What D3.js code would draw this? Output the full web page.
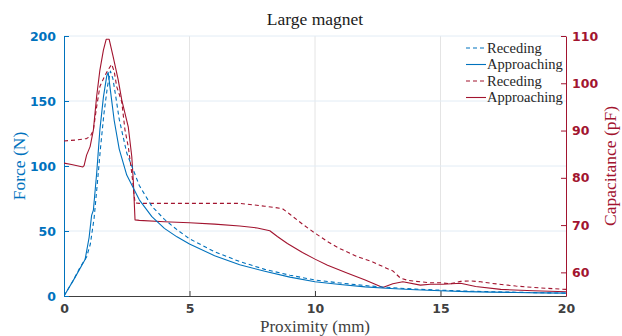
<!DOCTYPE html>
<html>
<head>
<meta charset="utf-8">
<script src="https://cdn.jsdelivr.net/npm/d3@7"></script>
<style>
html,body{margin:0;padding:0;background:#fff;}
svg{display:block;}
</style>
</head>
<body>
<svg id="chart" width="622" height="336"></svg>
<script>
// ---------- data ----------
const title = "Large magnet";
const xLabel = "Proximity (mm)";
const yLeftLabel = "Force (N)";
const yRightLabel = "Capacitance (pF)";
const xTicks = [0, 5, 10, 15, 20];
const yLeftTicks = [0, 50, 100, 150, 200];
const yRightTicks = [60, 70, 80, 90, 100, 110];
const legendLabels = ["Receding", "Approaching", "Receding", "Approaching"];

// Force, receding (dashed blue)
const forceRecX = [0, 0.37, 0.64, 0.9, 1.05, 1.2, 1.33, 1.46, 1.59, 1.73, 1.85, 1.95, 2.05, 2.2, 2.5, 3.0, 3.5, 4.0, 4.5, 5, 6, 7, 8, 9, 10, 11, 12, 13, 14, 15, 16, 17, 18, 19, 20];
const forceRecY = [0, 12, 22, 30, 40, 60, 87, 115, 140, 161, 173, 167, 155, 136, 110, 85, 69, 59, 51, 44, 34, 26.5, 20.5, 16, 12.3, 10, 8, 6.5, 5.3, 4.5, 3.8, 3.3, 2.9, 2.5, 2.2];
// Force, approaching (solid blue)
const forceAppX = [0, 0.4, 0.84, 1.0, 1.1, 1.17, 1.3, 1.43, 1.57, 1.7, 1.76, 1.85, 2.0, 2.2, 2.5, 3.0, 3.5, 4.0, 4.5, 5, 6, 7, 8, 9, 10, 11, 12, 13, 14, 15, 16, 17, 18, 19, 20];
const forceAppY = [0, 13, 28, 45, 62, 66, 94, 128, 153, 169, 172, 158, 135, 113, 93, 74, 61, 52, 45.5, 40, 31, 24, 19, 14.5, 11, 8.8, 7, 5.8, 4.8, 4, 3.4, 3, 2.7, 2.4, 2.2];

// Capacitance, receding (dashed red)
const capRecX = [0, 0.5, 0.9, 1.05, 1.17, 1.3, 1.43, 1.6, 1.75, 1.9, 2.0, 2.1, 2.3, 2.43, 2.56, 2.7, 2.83, 3.0, 4, 5, 6, 7, 7.5, 8, 8.7, 9.0, 9.5, 10, 10.5, 11, 11.7, 12.3, 12.8, 13.1, 13.4, 13.7, 14.2, 14.6, 15, 15.4, 15.8, 16.2, 16.6, 17, 18, 19, 20];
const capRecY = [87.8, 88.0, 88.3, 88.8, 90.1, 95, 99.3, 101.3, 102.8, 104, 102.5, 99.3, 96.1, 90.1, 86.6, 81, 74.7, 74.6, 74.6, 74.6, 74.6, 74.6, 74.3, 74.0, 73.5, 72.3, 70.2, 68.3, 66.5, 65, 63.3, 62.2, 61, 60.3, 58.8, 58.3, 58.0, 57.8, 57.8, 57.6, 58.1, 58.2, 58.0, 57.7, 57.1, 56.7, 56.4];
// Capacitance, approaching (solid red)
const capAppX = [0, 0.3, 0.57, 0.75, 0.8, 0.9, 1.04, 1.17, 1.3, 1.43, 1.57, 1.68, 1.8, 1.96, 2.16, 2.3, 2.56, 2.7, 2.76, 2.83, 3.0, 4, 5, 6, 7, 7.7, 8.2, 8.5, 8.9, 9.5, 10, 10.5, 11.3, 12, 12.7, 13.1, 13.5, 14.2, 14.6, 15.1, 15.8, 16.4, 17.4, 18.7, 20];
const capAppY = [83.1, 82.8, 82.5, 82.3, 82.6, 84.8, 86.6, 90.1, 97.2, 102.8, 107, 109.3, 109.3, 105.6, 100.7, 96.5, 90.8, 84.5, 79.5, 71.1, 71.0, 70.7, 70.5, 70.2, 69.8, 69.4, 68.8, 67.6, 66.1, 64.2, 62.8, 61.5, 59.8, 58.4, 56.8, 57.6, 58.0, 57.3, 57.5, 57.5, 57.7, 57.0, 56.4, 56.1, 55.9];

// ---------- layout ----------
const blue = "#0072BD", red = "#A2142F", gray = "#404040";
const L = 64, R = 566, T = 36, B = 296;
const svg = d3.select("#chart");
const x = d3.scaleLinear().domain([0, 20]).range([L, R]);
const yL = d3.scaleLinear().domain([0, 200]).range([B, T]);
const yR = d3.scaleLinear().domain([55, 110]).range([B, T]);
const serif = "'Liberation Serif', 'DejaVu Serif', serif";
const sans = "'DejaVu Sans', sans-serif";

// grid
const grid = svg.append("g");
xTicks.filter(d => d > 0 && d < 20).forEach(d => {
  grid.append("line").attr("x1", x(d)).attr("x2", x(d)).attr("y1", T).attr("y2", B)
    .attr("stroke", "#e4e4e4").attr("stroke-width", 1);
});
yLeftTicks.filter(d => d > 0).forEach(d => {
  grid.append("line").attr("x1", L).attr("x2", R).attr("y1", yL(d)).attr("y2", yL(d))
    .attr("stroke", "#e2ecf5").attr("stroke-width", 1);
});

// axes
function styleAxis(g, color) {
  g.select(".domain").attr("stroke", color).attr("stroke-width", 1);
  g.selectAll(".tick line").attr("stroke", color);
  g.selectAll(".tick text").attr("fill", color).attr("font-family", sans)
    .attr("font-weight", "bold").attr("font-size", 12.5);
}
const gx = svg.append("g").attr("transform", `translate(0,${B})`)
  .call(d3.axisBottom(x).tickValues(xTicks).tickSize(-5).tickSizeOuter(0).tickPadding(8));
styleAxis(gx, gray);
const gl = svg.append("g").attr("transform", `translate(${L},0)`)
  .call(d3.axisLeft(yL).tickValues(yLeftTicks).tickSize(-5).tickSizeOuter(0).tickPadding(8));
styleAxis(gl, blue);
const gr = svg.append("g").attr("transform", `translate(${R},0)`)
  .call(d3.axisRight(yR).tickValues(yRightTicks).tickSize(-5).tickSizeOuter(0).tickPadding(6));
styleAxis(gr, red);

// lines
const clip = svg.append("clipPath").attr("id", "clip").append("rect")
  .attr("x", L).attr("y", T - 2).attr("width", R - L).attr("height", B - T + 2);
const plot = svg.append("g").attr("clip-path", "url(#clip)");
function drawLine(xs, ys, yScale, color, dashed) {
  const pts = xs.map((d, i) => [d, ys[i]]);
  plot.append("path").datum(pts)
    .attr("d", d3.line().x(d => x(d[0])).y(d => yScale(d[1])))
    .attr("fill", "none").attr("stroke", color).attr("stroke-width", 1.1)
    .attr("stroke-dasharray", dashed ? "4,3" : null)
    .attr("stroke-linejoin", "round");
}
drawLine(capRecX, capRecY, yR, red, true);
drawLine(capAppX, capAppY, yR, red, false);
drawLine(forceRecX, forceRecY, yL, blue, true);
drawLine(forceAppX, forceAppY, yL, blue, false);

// texts
svg.append("text").attr("x", (L + R) / 2).attr("y", 25).attr("text-anchor", "middle")
  .attr("font-family", serif).attr("font-size", 17.5).attr("fill", "#1a1a1a").text(title);
svg.append("text").attr("x", (L + R) / 2).attr("y", 332).attr("text-anchor", "middle")
  .attr("font-family", serif).attr("font-size", 17).attr("fill", gray).text(xLabel);
svg.append("text").attr("transform", `translate(25,${(T + B) / 2}) rotate(-90)`).attr("text-anchor", "middle")
  .attr("font-family", serif).attr("font-size", 17.5).attr("fill", blue).text(yLeftLabel);
svg.append("text").attr("transform", `translate(616,${(T + B) / 2}) rotate(-90)`).attr("text-anchor", "middle")
  .attr("font-family", serif).attr("font-size", 17.5).attr("fill", red).text(yRightLabel);

// legend
const legColors = [blue, blue, red, red];
const legDash = [true, false, true, false];
const legY = [48, 64.5, 81, 97.5];
legendLabels.forEach((lab, i) => {
  svg.append("line").attr("x1", 466).attr("x2", 486).attr("y1", legY[i]).attr("y2", legY[i])
    .attr("stroke", legColors[i]).attr("stroke-width", 1.1)
    .attr("stroke-dasharray", legDash[i] ? "4,3" : null);
  svg.append("text").attr("x", 487).attr("y", legY[i] + 4.5)
    .attr("font-family", serif).attr("font-size", 14.5).attr("fill", "#262626").text(lab);
});
</script>
</body>
</html>
